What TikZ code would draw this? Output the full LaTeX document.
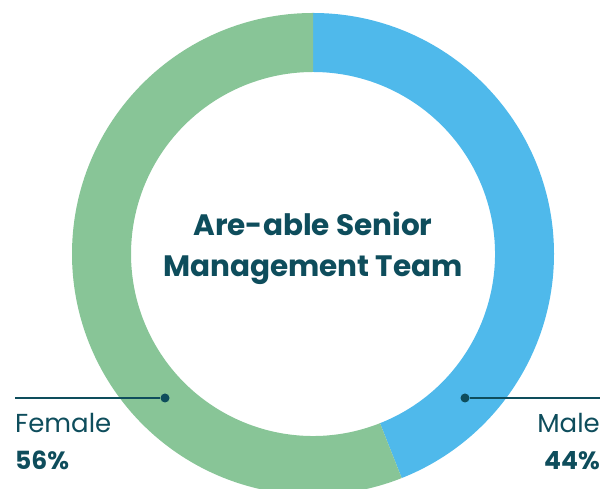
\documentclass[tikz,border=0pt]{standalone}
\usepackage{fontspec}
\setmainfont{Poppins}
\usepackage{tikz}
\usetikzlibrary{positioning}
\definecolor{femgreen}{HTML}{88C597}
\definecolor{maleblue}{HTML}{4FB9EB}
\definecolor{darkteal}{HTML}{0E4D5C}

\begin{document}
\begin{tikzpicture}[x=1pt, y=1pt]

\tikzstyle{label1}=[font=\fontsize{26}{30}\selectfont, text=darkteal, inner sep=0pt]
\tikzstyle{pct}=[font=\fontsize{25}{30}\selectfont\bfseries, text=darkteal, inner sep=0pt]
\tikzstyle{dot}=[circle, fill=darkteal, inner sep=0pt, minimum size=9pt]
\tikzstyle{leader}=[draw=darkteal, line width=1.2pt]

\useasboundingbox (0,0) rectangle (613,489);

% ring
\fill [maleblue] (313,235) ++(90:241) arc (90:-68.4:241) -- ++(111.6:59) arc (-68.4:90:182) -- cycle;
\fill [femgreen] (313,235) ++(90:241) arc (90:291.6:241) -- ++(111.6:59) arc (291.6:90:182) -- cycle;

\node (T) [font=\fontsize{29.5}{41}\selectfont\bfseries, text=darkteal, align=center,
           inner sep=0pt, anchor=base] at (313,212)
  {Are-able Senior\\Management Team};

% left side
\node (F)  [dot] at (165,91) {};
\coordinate (FL) at (15,91);
\node (FT) [label1, anchor=base west] at (15,56) {Female};
\node (FP) [pct, anchor=base west] at (15,19) {56\%};

% right side
\node (M)  [dot] at (465,91) {};
\coordinate (ML) at (600,91);
\node (MT) [label1, anchor=base east] at (600,56) {Male};
\node (MP) [pct, anchor=base east] at (600,19) {44\%};

\draw [leader] (FL) -- (F);
\draw [leader] (M) -- (ML);

\end{tikzpicture}
\end{document}
